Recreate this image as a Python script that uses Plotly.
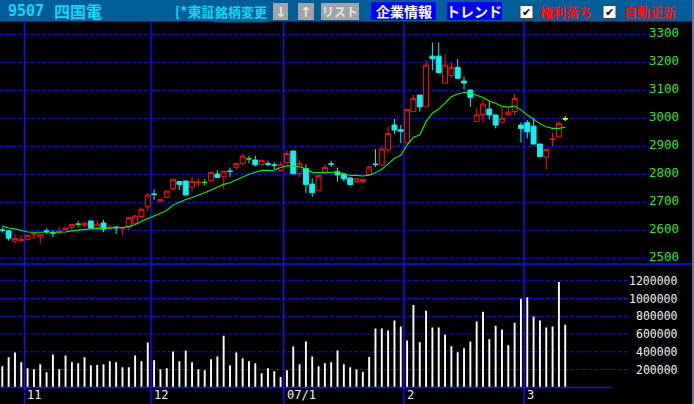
import plotly.graph_objects as go

W, H = 694, 404

# ---------------- data ----------------
month_days = [
    ("2006-10", [26, 27, 30, 31]),
    ("2006-11", [1, 2, 6, 7, 8, 9, 10, 13, 14, 15, 16, 17, 20, 21, 22, 24, 27, 28, 29, 30]),
    ("2006-12", [1, 4, 5, 6, 7, 8, 11, 12, 13, 14, 15, 18, 19, 20, 21, 22, 25, 26, 27, 28, 29]),
    ("2007-01", [4, 5, 9, 10, 11, 12, 15, 16, 17, 18, 19, 22, 23, 24, 25, 26, 29, 30, 31]),
    ("2007-02", [1, 2, 5, 6, 7, 8, 9, 13, 14, 15, 16, 19, 20, 21, 22, 23, 26, 27, 28]),
    ("2007-03", [1, 2, 5, 6, 7, 8, 9]),
]
dates = [f"{m}-{d:02d}" for m, ds in month_days for d in ds]
month_labels = ["11", "12", "07/1", "2", "3"]

open_ = [2601, 2598, 2561, 2564, 2568, 2586, 2576, 2598, 2592, 2590,
         2602, 2611, 2622, 2618, 2633, 2611, 2626, 2605, 2612, 2606,
         2611, 2625, 2649, 2684, 2730, 2704, 2718, 2749, 2774, 2776,
         2754, 2770, 2771, 2777, 2801, 2791, 2812, 2825, 2839, 2855,
         2851, 2836, 2838, 2834, 2814, 2841, 2883, 2803, 2821, 2765,
         2741, 2804, 2838, 2809, 2801, 2787, 2774, 2774, 2799, 2837,
         2833, 2887, 2976, 2959, 2913, 3024, 3083, 3041, 3222, 3222,
         3125, 3152, 3182, 3133, 3101, 2988, 3013, 3033, 3012, 2986,
         3014, 3024, 2976, 2984, 2972, 2908, 2861, 2924, 2934, 2998]
high = [2610, 2600, 2586, 2582, 2584, 2590, 2587, 2607, 2601, 2611,
        2610, 2622, 2633, 2630, 2636, 2637, 2637, 2620, 2614, 2612,
        2648, 2655, 2682, 2733, 2746, 2712, 2741, 2783, 2776, 2777,
        2791, 2786, 2782, 2810, 2815, 2812, 2824, 2840, 2875, 2866,
        2866, 2852, 2849, 2843, 2845, 2887, 2884, 2851, 2836, 2786,
        2797, 2836, 2849, 2824, 2803, 2790, 2785, 2783, 2830, 2890,
        2900, 2971, 2998, 2976, 3033, 3083, 3084, 3208, 3271, 3271,
        3230, 3200, 3212, 3149, 3103, 3036, 3071, 3063, 3013, 3041,
        3039, 3087, 2986, 2994, 3000, 2909, 2890, 2949, 2990, 3008]
low = [2592, 2563, 2552, 2563, 2566, 2568, 2552, 2588, 2575, 2589,
       2600, 2601, 2611, 2612, 2606, 2610, 2593, 2604, 2587, 2583,
       2601, 2620, 2643, 2668, 2708, 2703, 2716, 2742, 2744, 2725,
       2738, 2759, 2759, 2770, 2788, 2747, 2791, 2815, 2831, 2839,
       2828, 2835, 2829, 2819, 2810, 2838, 2801, 2790, 2734, 2720,
       2739, 2803, 2826, 2774, 2774, 2762, 2769, 2766, 2798, 2826,
       2832, 2877, 2943, 2911, 2912, 3023, 3024, 3040, 3172, 3162,
       3124, 3145, 3142, 3104, 3041, 2987, 2984, 2996, 2964, 2985,
       3013, 3012, 2913, 2929, 2907, 2862, 2818, 2901, 2933, 2990]
close = [2600, 2572, 2571, 2566, 2582, 2589, 2586, 2596, 2590, 2596,
         2608, 2621, 2622, 2625, 2608, 2622, 2604, 2611, 2609, 2610,
         2646, 2651, 2675, 2726, 2728, 2711, 2740, 2782, 2764, 2726,
         2774, 2772, 2771, 2807, 2789, 2811, 2810, 2839, 2865, 2855,
         2834, 2850, 2836, 2832, 2836, 2874, 2802, 2839, 2764, 2734,
         2796, 2825, 2836, 2798, 2784, 2763, 2784, 2782, 2826, 2835,
         2890, 2946, 2958, 2954, 3032, 3071, 3041, 3190, 3213, 3163,
         3190, 3182, 3143, 3126, 3075, 3012, 3051, 3012, 2976, 3000,
         3022, 3071, 2964, 2952, 2908, 2863, 2889, 2926, 2982, 2998]
# special candles: g = green cross, y = yellow (latest)
special = {12: "g", 32: "g", 39: "g", 89: "y"}

moving_avg = [2614, 2608, 2605, 2599, 2594, 2593, 2593, 2593, 2593, 2593,
              2594, 2598, 2601, 2604, 2605, 2606, 2607, 2608, 2609, 2610,
              2614, 2620, 2632, 2641, 2651, 2661, 2671, 2690, 2700, 2710,
              2717, 2725, 2734, 2744, 2753, 2764, 2770, 2780, 2791, 2800,
              2807, 2814, 2814, 2815, 2824, 2830, 2830, 2827, 2820, 2807,
              2806, 2807, 2809, 2808, 2802, 2796, 2796, 2794, 2797, 2806,
              2818, 2839, 2857, 2868, 2905, 2932, 2940, 2988, 3018, 3033,
              3056, 3077, 3087, 3093, 3090, 3081, 3074, 3062, 3054, 3043,
              3040, 3044, 3030, 3012, 2996, 2981, 2970, 2964, 2964, 2968]

volume_k = [237, 337, 393, 281, 215, 204, 259, 170, 370, 204,
            359, 281, 270, 337, 248, 252, 259, 293, 281, 226,
            226, 359, 293, 504, 304, 204, 215, 404, 293, 415,
            281, 204, 193, 315, 348, 581, 248, 393, 326, 293,
            270, 159, 215, 181, 115, 193, 459, 259, 515, 348,
            237, 270, 281, 415, 259, 226, 200, 174, 341, 663,
            663, 641, 752, 685, 526, 926, 507, 863, 674, 674,
            593, 463, 396, 441, 515, 741, 852, 541, 693, 652,
            474, 726, 996, 1015, 796, 752, 674, 685, 1185, 704]
volume = [v * 1000 for v in volume_k]

price_ticks = [2500, 2600, 2700, 2800, 2900, 3000, 3100, 3200, 3300]
volume_ticks = [200000, 400000, 600000, 800000, 1000000, 1200000]

# ---------------- helpers ----------------
def px(x):
    return x / W


def py(y):
    return 1 - y / H


n = len(dates)
xs = list(range(n))
month_starts = [i for i in range(1, n) if dates[i][:7] != dates[i - 1][:7]]

# axis geometry (pixel layout of the original)
slot = 6.325
x0px = 2.3
x_range = [(0 - x0px) / slot, (W - x0px) / slot]
price_top_px, price_bot_px = 22, 264
ppx = 0.28  # px per yen
price_range = [3300 - (price_bot_px - 34.3) / ppx, 3300 + (34.3 - price_top_px) / ppx]
vol_top_px, vol_base_px = 265, 387.3
vol_scale = 88.8 / 1e6
vol_range = [0, (vol_base_px - vol_top_px) / vol_scale]

fig = go.Figure()

fig.add_trace(go.Bar(
    x=xs, y=volume, yaxis="y2", width=0.3,
    marker=dict(color="#ffffff", line=dict(width=0)), hoverinfo="skip", showlegend=False))

fig.add_trace(go.Scatter(
    x=xs, y=moving_avg, mode="lines", line=dict(color="#10f010", width=1.1),
    hoverinfo="skip", showlegend=False))

main_idx = [i for i in xs if i not in special]
fig.add_trace(go.Candlestick(
    x=main_idx,
    open=[open_[i] for i in main_idx], high=[high[i] for i in main_idx],
    low=[low[i] for i in main_idx], close=[close[i] for i in main_idx],
    increasing=dict(line=dict(color="#ff1010", width=1), fillcolor="#000000"),
    decreasing=dict(line=dict(color="#10f0f0", width=1), fillcolor="#10f0f0"),
    whiskerwidth=0, hoverinfo="skip", showlegend=False))

for key, col in (("g", "#30f030"), ("y", "#ffff30")):
    idx = [i for i, k in special.items() if k == key]
    fig.add_trace(go.Candlestick(
        x=idx,
        open=[open_[i] for i in idx], high=[high[i] for i in idx],
        low=[low[i] for i in idx], close=[close[i] for i in idx],
        increasing=dict(line=dict(color=col, width=1), fillcolor=col),
        decreasing=dict(line=dict(color=col, width=1), fillcolor=col),
        whiskerwidth=0, hoverinfo="skip", showlegend=False))

shapes = []
annotations = []
grid_blue = "#1010ff"

# price grid
for p in price_ticks:
    shapes.append(dict(type="line", xref="paper", yref="y", x0=0, x1=px(650), y0=p, y1=p,
                       line=dict(color=grid_blue, width=1, dash="4px,2px"), layer="below"))
    annotations.append(dict(xref="paper", yref="y", x=px(681), y=p, text=str(p), showarrow=False,
                            xanchor="right", yanchor="middle", yshift=1.5,
                            font=dict(family="DejaVu Sans Mono", size=12.5, color="#38e038")))
# volume grid
for v in volume_ticks:
    shapes.append(dict(type="line", xref="paper", yref="y2", x0=0, x1=px(630), y0=v, y1=v,
                       line=dict(color=grid_blue, width=1, dash="4px,2px"), layer="below"))
    annotations.append(dict(xref="paper", yref="y2", x=px(680), y=v, text=str(v), showarrow=False,
                            xanchor="right", yanchor="middle",
                            font=dict(family="DejaVu Sans Mono", size=11.5, color="#f0f0f0")))

# separators
shapes.append(dict(type="line", xref="paper", yref="paper", x0=0, x1=1, y0=py(264), y1=py(264),
                   line=dict(color=grid_blue, width=1.3)))
shapes.append(dict(type="line", xref="paper", yref="paper", x0=0, x1=px(612), y0=py(387.5), y1=py(387.5),
                   line=dict(color=grid_blue, width=1.3)))

# month lines and labels
for k, i in enumerate(month_starts):
    shapes.append(dict(type="line", xref="x", yref="paper", x0=i - 0.5, x1=i - 0.5, y0=0, y1=py(22),
                       line=dict(color=grid_blue, width=1.4), layer="below"))
    annotations.append(dict(xref="x", yref="paper", x=i - 0.5, y=py(395), text=month_labels[k],
                            showarrow=False, xanchor="left", yanchor="middle", xshift=1,
                            font=dict(family="DejaVu Sans Mono", size=12, color="#f0f0f0")))

# ---------------- header ----------------
hdr = "#005e98"
shapes.append(dict(type="rect", xref="paper", yref="paper", x0=0, x1=1, y0=py(21.5), y1=1,
                   fillcolor=hdr, line=dict(width=0)))
shapes.append(dict(type="rect", xref="paper", yref="paper", x0=px(692), x1=1, y0=0, y1=1,
                   fillcolor="#7070a8", line=dict(width=0)))

cyan_txt = "#10d8f8"
jp = "Noto Sans CJK JP"


def text(x, y, s, size, color, anchor="left", bold=False, family=jp, bg=None):
    d = dict(xref="paper", yref="paper", x=px(x), y=py(y), text=("<b>%s</b>" % s) if bold else s,
             showarrow=False, xanchor=anchor, yanchor="middle",
             font=dict(family=family, size=size, color=color))
    if bg:
        d["bgcolor"] = bg
        d["borderpad"] = 1
    annotations.append(d)


def rect(x0, x1, y0, y1, fill, line_color=None):
    shapes.append(dict(type="rect", xref="paper", yref="paper", x0=px(x0), x1=px(x1),
                       y0=py(y1), y1=py(y0), fillcolor=fill,
                       line=dict(width=1 if line_color else 0, color=line_color or fill)))


text(6, 11, "9507", 15, cyan_txt, family="DejaVu Sans Mono", bold=True)
text(52, 11, "四国電", 16, cyan_txt, bold=True)
text(217, 11, "[*東証", 14, cyan_txt, anchor="right", bold=True)
text(213, 11, "銘柄変更", 13, cyan_txt, bold=True, bg=hdr)

# grey buttons
rect(273, 288, 3, 20, "#a4a4a4")
text(280.5, 11.5, "↓", 14, "#e4e4e4", anchor="center", bold=True, family="DejaVu Sans")
rect(298, 314, 3, 20, "#a4a4a4")
text(306, 11.5, "↑", 14, "#e4e4e4", anchor="center", bold=True, family="DejaVu Sans")
rect(321, 359, 3, 20, "#a4a4a4")
text(340, 11.5, "リスト", 12, "#e4e4e4", anchor="center", bold=True)

# blue buttons
rect(371, 436, 2, 20, "#0000ff")
text(403.5, 11, "企業情報", 14, "#ffffff", anchor="center", bold=True)
rect(447, 502, 2, 20, "#0000ff")
text(474.5, 11, "トレンド", 14, "#ffffff", anchor="center", bold=True)

# check boxes
rect(520, 533, 5.5, 18.5, "#ffffff", "#404040")
text(526.5, 12, "✔", 11, "#000000", anchor="center", family="DejaVu Sans")
text(538, 11, "権利落ち", 13, "#ff1010", bold=True)
rect(603, 616, 5.5, 18.5, "#ffffff", "#404040")
text(609.5, 12, "✔", 11, "#000000", anchor="center", family="DejaVu Sans")
text(622, 11, "自動更新", 13, "#ff1010", bold=True)

fig.update_layout(
    width=W, height=H, margin=dict(l=0, r=0, t=0, b=0, pad=0),
    paper_bgcolor="#000000", plot_bgcolor="rgba(0,0,0,0)",
    showlegend=False, boxgap=0.12, boxgroupgap=0.12,
    xaxis=dict(domain=[0, 1], range=x_range, visible=False, fixedrange=True,
               rangeslider=dict(visible=False)),
    yaxis=dict(domain=[py(price_bot_px), py(price_top_px)], range=price_range,
               visible=False, fixedrange=True),
    yaxis2=dict(domain=[py(vol_base_px), py(vol_top_px)], range=vol_range, anchor="x",
                visible=False, fixedrange=True),
    shapes=shapes, annotations=annotations,
)

fig.write_html(
    "out.html",
    config={"displayModeBar": False, "staticPlot": True},
    post_script="document.body.style.margin='0';document.body.style.padding='0';"
                "document.body.style.overflow='hidden';document.body.style.background='#000';",
)
